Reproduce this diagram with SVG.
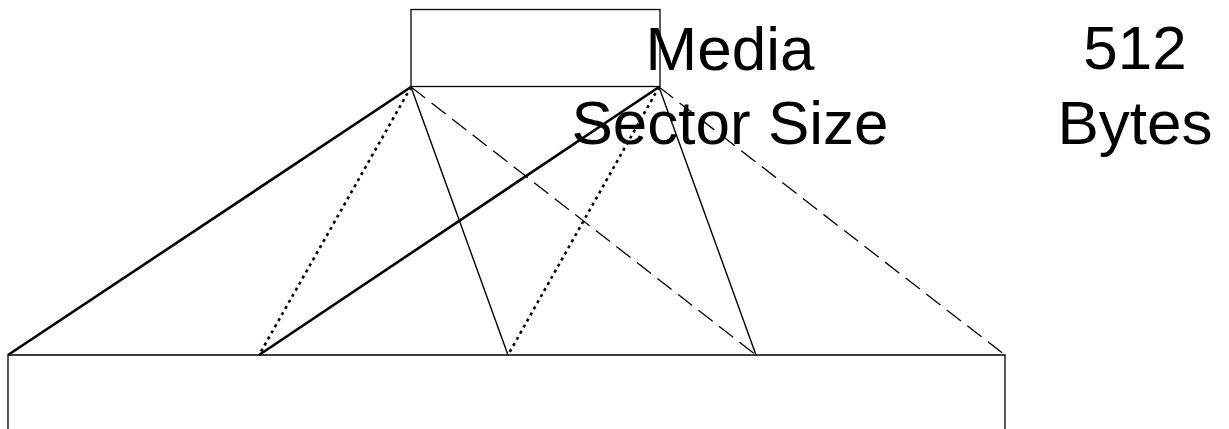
<svg xmlns="http://www.w3.org/2000/svg" width="1229" height="429" viewBox="0 0 1229 429">
<style>
.box{fill:none;stroke:#000;stroke-width:1.3}
.thick{stroke:#000;stroke-width:2.6;fill:none}
.thin{stroke:#000;stroke-width:1.4;fill:none}
.dash{stroke:#000;stroke-width:1.3;stroke-dasharray:18 8;fill:none}
.dot{stroke:#000;stroke-width:2.6;stroke-dasharray:3 4;fill:none}
text{font-family:"Liberation Sans",Arial,sans-serif;font-size:62px;fill:#000;text-anchor:middle}
</style>
<rect width="1229" height="429" fill="#fff"/>
<g id="media-sector">
<rect class="box" x="411" y="9.5" width="249" height="77"/>
</g>
<g id="bottom-block">
<path class="box" d="M8 440 V355 H1005 V440"/>
</g>
<g id="connectors">
<line class="thick" x1="411" y1="87" x2="8" y2="355"/>
<line class="dot" x1="411" y1="87" x2="259" y2="355"/>
<line class="thin" x1="411" y1="87" x2="508" y2="355"/>
<line class="dash" x1="411" y1="87" x2="756" y2="355"/>
<line class="thick" x1="659" y1="87" x2="259" y2="355"/>
<line class="dot" x1="659" y1="87" x2="508" y2="355"/>
<line class="thin" x1="659" y1="87" x2="756" y2="355"/>
<line class="dash" x1="659" y1="87" x2="1005" y2="355"/>
</g>
<g id="labels">
<text x="730" y="70">Media</text>
<text x="730" y="144">Sector Size</text>
<text x="1135" y="69">512</text>
<text x="1135" y="144">Bytes</text>
</g>
</svg>
